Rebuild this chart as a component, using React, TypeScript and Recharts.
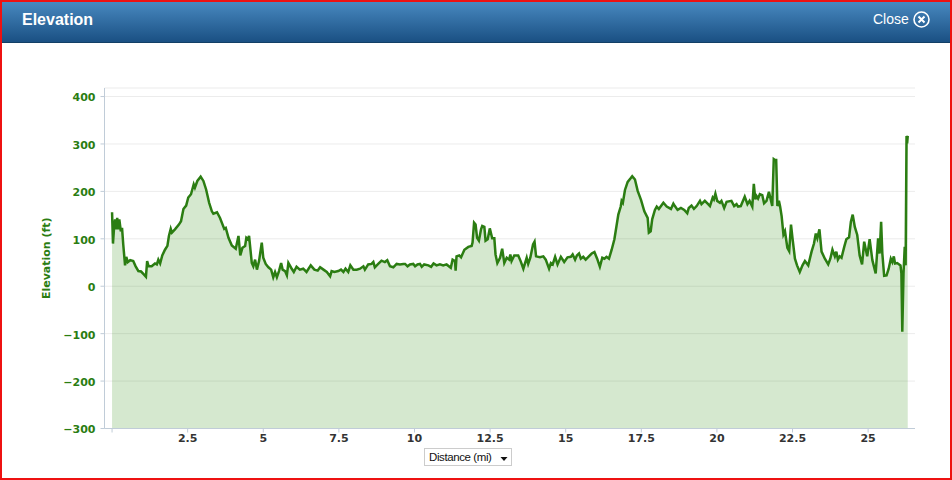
import { AreaChart, Area, XAxis, YAxis, CartesianGrid } from 'recharts'

const distance = [
  0, 0.03, 0.07, 0.1, 0.13, 0.17, 0.2, 0.24, 0.29, 0.33, 0.37, 0.43, 0.47, 0.52, 0.6, 0.7, 0.78, 0.87, 0.96, 1.05,
  1.12, 1.16, 1.21, 1.31, 1.42, 1.48, 1.53, 1.59, 1.66, 1.75, 1.83, 1.88, 1.94, 1.98, 2.08, 2.21, 2.28, 2.36, 2.45, 2.52,
  2.61, 2.7, 2.74, 2.82, 2.93, 3.02, 3.11, 3.21, 3.3, 3.35, 3.47, 3.57, 3.71, 3.76, 3.85, 3.96, 4.09, 4.18, 4.24, 4.31,
  4.4, 4.44, 4.49, 4.53, 4.62, 4.67, 4.73, 4.79, 4.86, 4.95, 5.0, 5.08, 5.17, 5.26, 5.33, 5.39, 5.45, 5.52, 5.59, 5.64,
  5.72, 5.78, 5.83, 5.92, 6.01, 6.1, 6.21, 6.32, 6.43, 6.57, 6.69, 6.8, 6.88, 6.99, 7.1, 7.21, 7.26, 7.35, 7.48, 7.57,
  7.65, 7.72, 7.81, 7.88, 7.98, 8.09, 8.2, 8.31, 8.36, 8.47, 8.58, 8.64, 8.69, 8.8, 8.91, 9.02, 9.1, 9.19, 9.3, 9.41,
  9.52, 9.63, 9.69, 9.77, 9.85, 9.96, 10.02, 10.1, 10.18, 10.24, 10.32, 10.46, 10.55, 10.63, 10.73, 10.84, 10.95, 11.06, 11.2, 11.26,
  11.34, 11.36, 11.39, 11.48, 11.54, 11.65, 11.78, 11.89, 11.92, 11.97, 12.02, 12.07, 12.13, 12.2, 12.24, 12.31, 12.35, 12.42, 12.49, 12.57,
  12.64, 12.68, 12.74, 12.83, 12.9, 12.97, 13.05, 13.13, 13.17, 13.21, 13.3, 13.43, 13.51, 13.6, 13.71, 13.76, 13.83, 13.92, 13.97, 14.02,
  14.15, 14.26, 14.34, 14.45, 14.51, 14.57, 14.65, 14.73, 14.84, 14.95, 15.06, 15.17, 15.23, 15.31, 15.37, 15.44, 15.5, 15.58, 15.66, 15.75,
  15.86, 15.95, 16.04, 16.13, 16.21, 16.28, 16.35, 16.43, 16.52, 16.61, 16.68, 16.74, 16.82, 16.85, 16.89, 16.96, 17.05, 17.14, 17.2, 17.29,
  17.38, 17.49, 17.6, 17.71, 17.75, 17.81, 17.86, 17.95, 18.01, 18.08, 18.23, 18.34, 18.48, 18.56, 18.61, 18.7, 18.81, 18.92, 19.02, 19.07,
  19.16, 19.24, 19.33, 19.44, 19.49, 19.6, 19.71, 19.77, 19.86, 19.9, 19.95, 20.01, 20.1, 20.15, 20.24, 20.32, 20.48, 20.57, 20.65, 20.7,
  20.79, 20.92, 21.01, 21.08, 21.17, 21.22, 21.27, 21.31, 21.36, 21.42, 21.5, 21.56, 21.64, 21.72, 21.83, 21.88, 21.92, 21.96, 22.0, 22.05,
  22.09, 22.14, 22.2, 22.25, 22.33, 22.39, 22.45, 22.5, 22.58, 22.65, 22.74, 22.83, 22.91, 23.02, 23.13, 23.21, 23.27, 23.32, 23.39, 23.46,
  23.57, 23.68, 23.75, 23.82, 23.9, 23.95, 24.0, 24.06, 24.12, 24.21, 24.28, 24.37, 24.43, 24.49, 24.56, 24.64, 24.72, 24.8, 24.87, 24.97,
  25.05, 25.14, 25.25, 25.33, 25.38, 25.43, 25.47, 25.53, 25.61, 25.68, 25.75, 25.8, 25.85, 25.89, 25.96, 26.07, 26.1, 26.13, 26.17, 26.21,
  26.24, 26.27, 26.29, 26.31,
]

const elevation = [
  156, 90, 127, 141, 120, 144, 120, 141, 116, 123, 88, 44, 62, 51, 55, 53, 42, 32, 31, 25,
  20, 53, 42, 42, 48, 46, 56, 48, 65, 77, 85, 106, 121, 113, 120, 130, 137, 163, 170, 187,
  194, 215, 208, 222, 231, 222, 204, 176, 158, 153, 156, 144, 121, 123, 102, 86, 79, 106, 65, 81,
  85, 102, 99, 106, 49, 42, 56, 35, 53, 92, 60, 47, 40, 35, 19, 30, 19, 32, 49, 35,
  32, 23, 49, 39, 30, 41, 35, 37, 30, 44, 35, 33, 40, 35, 30, 21, 32, 30, 32, 35,
  30, 37, 30, 44, 35, 35, 37, 42, 35, 46, 47, 51, 40, 47, 54, 51, 55, 42, 40, 47,
  46, 47, 47, 42, 46, 47, 42, 46, 47, 41, 46, 44, 41, 48, 44, 46, 44, 46, 39, 56,
  53, 33, 63, 65, 61, 77, 83, 85, 92, 134, 130, 102, 96, 120, 127, 125, 96, 99, 122, 101,
  101, 67, 49, 60, 79, 49, 60, 56, 67, 53, 65, 65, 53, 37, 60, 47, 60, 88, 94, 63,
  61, 63, 56, 37, 49, 46, 62, 46, 62, 51, 61, 62, 67, 56, 65, 69, 58, 62, 56, 62,
  69, 72, 58, 41, 60, 58, 62, 58, 77, 99, 127, 151, 168, 180, 176, 203, 220, 227, 232, 225,
  201, 182, 158, 144, 113, 116, 141, 161, 168, 163, 176, 168, 163, 174, 169, 161, 165, 161, 154, 165,
  170, 163, 169, 180, 173, 180, 173, 169, 187, 183, 195, 180, 176, 180, 165, 178, 180, 169, 173, 168,
  169, 189, 173, 180, 168, 216, 183, 190, 185, 194, 192, 175, 180, 199, 169, 268, 266, 266, 169, 180,
  168, 148, 109, 116, 81, 74, 130, 101, 58, 44, 30, 44, 53, 44, 73, 90, 111, 101, 120, 73,
  58, 46, 58, 77, 63, 73, 56, 63, 60, 83, 99, 103, 136, 151, 125, 108, 65, 46, 94, 63,
  99, 55, 27, 101, 69, 136, 69, 22, 23, 37, 58, 51, 63, 48, 49, 44, 27, -96, 27, 83,
  44, 317, 301, 317,
]

const yTicks = [-300, -200, -100, 0, 100, 200, 300, 400]
const xTicks = [0, 2.5, 5, 7.5, 10, 12.5, 15, 17.5, 20, 22.5, 25]

const data = distance.map((d, i) => ({ distance: d, elevation: elevation[i] }))

const GREEN = '#2b7d12'
const AXIS = '#c0ccd8'

export default function App() {
  return (
    <div
      style={{
        position: 'absolute',
        left: 0,
        top: 0,
        width: 952,
        height: 480,
        background: '#fff',
        overflow: 'hidden',
      }}
    >
      <div
        style={{
          position: 'absolute',
          left: 0,
          top: 0,
          width: 952,
          height: 43,
          background: 'linear-gradient(#4a8bc2, #1a5083)',
          borderBottom: '1px solid #123f66',
          boxSizing: 'border-box',
        }}
      >
        <span
          style={{
            position: 'absolute',
            left: 22,
            top: 11,
            color: '#fff',
            font: 'bold 16px "Liberation Sans", Arial, sans-serif',
          }}
        >
          Elevation
        </span>
        <span
          style={{
            position: 'absolute',
            left: 873,
            top: 11,
            color: '#fff',
            font: '14px "Liberation Sans", Arial, sans-serif',
          }}
        >
          Close
        </span>
        <svg style={{ position: 'absolute', left: 912, top: 10 }} width={19} height={19}>
          <circle cx={9.5} cy={9.5} r={7.5} fill="none" stroke="#fff" strokeWidth={1.6} />
          <path d="M6.5 6.5 L12.5 12.5 M12.5 6.5 L6.5 12.5" stroke="#fff" strokeWidth={2} />
        </svg>
      </div>

      <div style={{ position: 'absolute', left: 0, top: 0 }}>
        <AreaChart width={952} height={480} data={data} margin={{ top: 88, right: 37, left: 44.5, bottom: 21.5 }}>
          <XAxis
            dataKey="distance"
            type="number"
            domain={[-0.25, 26.55]}
            ticks={xTicks}
            height={30}
            interval={0}
            tickFormatter={(v: number) => (v === 0 ? '' : String(v))}
            tick={{ fontSize: 11, fontWeight: 'bold', fill: '#333', fontFamily: '"DejaVu Sans", sans-serif' }}
            tickLine={{ stroke: AXIS }}
            tickSize={4}
            axisLine={{ stroke: AXIS }}
          />
          <YAxis
            type="number"
            domain={[-300, 418]}
            ticks={yTicks}
            width={60}
            interval={0}
            tickFormatter={(v: number) => String(v).replace('-', '\u2212')}
            tick={{ fontSize: 11, fontWeight: 'bold', fill: GREEN, fontFamily: '"DejaVu Sans", sans-serif', dy: 1 }}
            tickLine={{ stroke: AXIS }}
            tickSize={4}
            tickMargin={5}
            axisLine={{ stroke: AXIS }}
            label={{
              value: 'Elevation (ft)',
              angle: -90,
              position: 'insideLeft',
              offset: 2,
              style: {
                fontSize: 11,
                fontWeight: 'bold',
                fill: GREEN,
                fontFamily: '"DejaVu Sans", sans-serif',
                textAnchor: 'middle',
              },
            }}
          />
          <Area
            type="linear"
            dataKey="elevation"
            baseValue={-300}
            stroke={GREEN}
            strokeWidth={2.5}
            fill="#2f8a0f"
            fillOpacity={0.2}
            dot={false}
            activeDot={false}
            isAnimationActive={false}
          />
          <CartesianGrid vertical={false} stroke="rgba(0,0,0,0.08)" />
        </AreaChart>
      </div>

      <div
        style={{
          position: 'absolute',
          left: 424,
          top: 448,
          width: 88,
          height: 18,
          boxSizing: 'border-box',
          border: '1px solid #ccc',
          background: '#fff',
          color: '#111',
          font: '11.5px "Liberation Sans", Arial, sans-serif',
          letterSpacing: -0.4,
          lineHeight: '16px',
          paddingLeft: 4,
          whiteSpace: 'nowrap',
        }}
      >
        Distance (mi)
        <svg style={{ position: 'absolute', left: 75, top: 7 }} width={9} height={6}>
          <path d="M0.5 1 L7.5 1 L4 5 Z" fill="#111" />
        </svg>
      </div>

      <div
        style={{
          position: 'absolute',
          left: 0,
          top: 0,
          width: 952,
          height: 480,
          boxSizing: 'border-box',
          border: '2px solid #ee1111',
          pointerEvents: 'none',
        }}
      />
    </div>
  )
}
